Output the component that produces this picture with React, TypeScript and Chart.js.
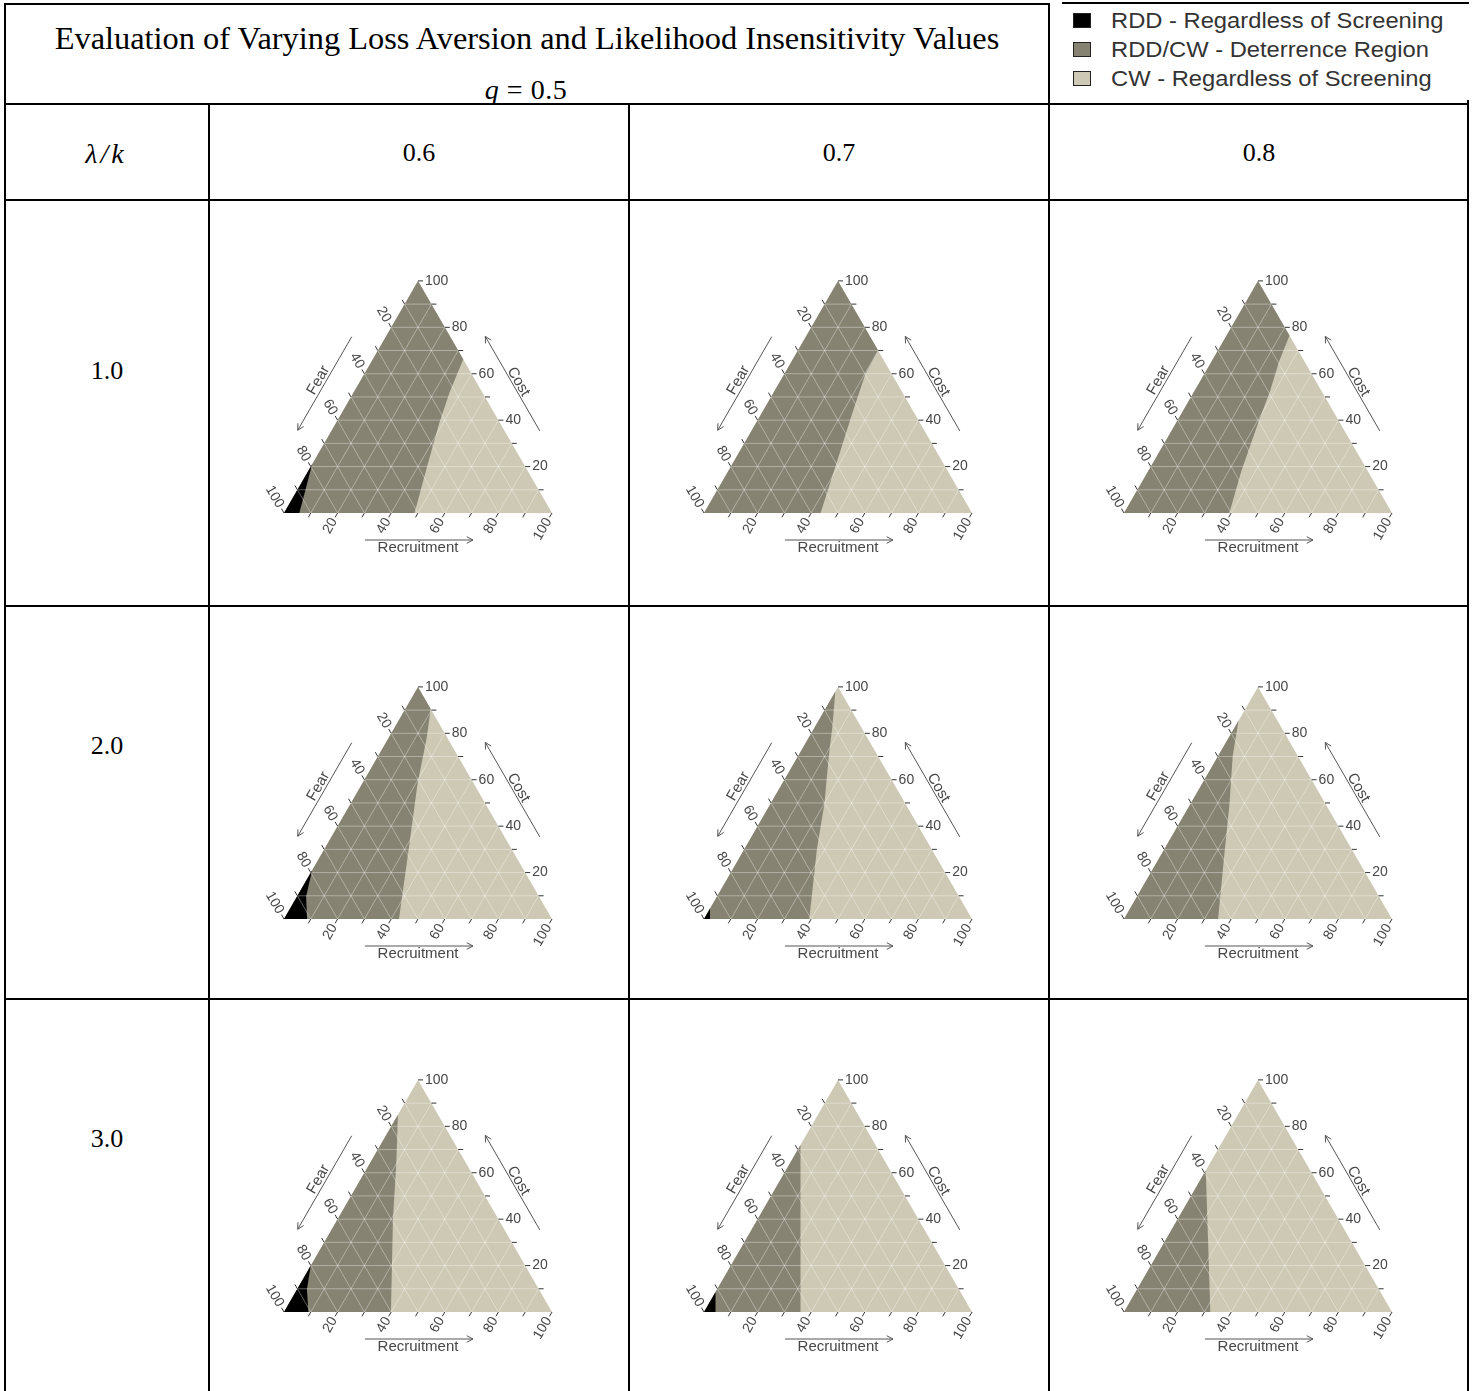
import React, { useEffect, useRef } from "react";
import { Chart, registerables } from "chart.js";

Chart.register(...registerables);

// Column headers: likelihood insensitivity k; row headers: loss aversion λ
const K_VALUES = ["0.6", "0.7", "0.8"];
const LAMBDA_VALUES = ["1.0", "2.0", "3.0"];

const AXIS_LABEL_TICKS = [20, 40, 60, 80, 100];
const AXIS_MARK_TICKS = [10, 20, 30, 40, 50, 60, 70, 80, 90, 100];
const GRID_STEPS = [10, 20, 30, 40, 50, 60, 70, 80, 90];

const REGION_LABELS = [
  "RDD - Regardless of Screening",
  "RDD/CW - Deterrence Region",
  "CW - Regardless of Screening",
];
const REGION_COLORS = ["#000000", "#868372", "#cdc9b4"];

// Region edges as [Recruitment, Cost] pairs (Fear = 100 - Recruitment - Cost),
// listed from the Recruitment axis upward.
// CW edge: deterrence region (left) vs. CW regardless of screening (right).
const cwEdgeL1K06 = [[48.7, 0], [43.2, 20.7], [38.5, 39], [35.8, 52], [33.8, 66.2]];
const cwEdgeL1K07 = [[43.5, 0], [39.1, 19.7], [33.6, 44], [30.3, 59.7], [30, 70]];
const cwEdgeL1K08 = [[39.3, 0], [34.7, 18.3], [30.5, 39.7], [28.2, 52.6], [25.2, 65.4], [23.5, 76.5]];
const cwEdgeL2K06 = [[42.9, 0], [31.6, 29.8], [20.6, 58.5], [14.3, 77.8], [9.5, 90.5]];
const cwEdgeL2K07 = [[39.3, 0], [27.2, 29.8], [20, 49.9], [11.6, 69.9], [6.5, 82.8], [0, 98]];
const cwEdgeL2K08 = [[35.1, 0], [22.1, 31.3], [15, 48.6], [5.5, 70.1], [0, 85.5]];
const cwEdgeL3K06 = [[39.9, 0], [20.8, 39.7], [9.9, 64], [0, 85]];
const cwEdgeL3K07 = [[36, 0], [18, 36], [0, 72]];
const cwEdgeL3K08 = [[32.2, 0], [16.6, 29.6], [0, 61]];

// RDD edge: RDD regardless of screening (corner at Fear = 100) vs. deterrence region.
const rddEdgeL1K06 = [[5.7, 0], [3.2, 9.3], [0, 21]];
const rddEdgeL2K06 = [[8.6, 0], [3.4, 9.7], [0, 21]];
const rddEdgeL2K07 = [[2.5, 0], [0, 4.5]];
const rddEdgeL3K06 = [[9.1, 0], [3.7, 9.7], [0, 20]];
const rddEdgeL3K07 = [[4.3, 0], [0, 8.6]];

const CW_EDGES = [
  [cwEdgeL1K06, cwEdgeL1K07, cwEdgeL1K08],
  [cwEdgeL2K06, cwEdgeL2K07, cwEdgeL2K08],
  [cwEdgeL3K06, cwEdgeL3K07, cwEdgeL3K08],
];
const RDD_EDGES = [
  [rddEdgeL1K06, [], []],
  [rddEdgeL2K06, rddEdgeL2K07, []],
  [rddEdgeL3K06, rddEdgeL3K07, []],
];

// ---- geometry / style -----------------------------------------------------
const SQ = Math.sqrt(3) / 2;
const PX_PER_UNIT = 2.68;
const CANVAS_W = 416;
const CANVAS_H = 330;
const BASE_Y = 274; // canvas y of the Recruitment axis
const TICK_PX = 5;
const LABEL_COLOR = "#474747";
const GRID_COLOR = "rgba(255,255,255,0.36)";
const TICK_COLOR = "#333333";

const cart = (r: number, c: number) => ({ x: r + c / 2, y: c * SQ });
const GAP = { x: 0, y: null as any };

function polygon(points: number[][]) {
  return points.map(([r, c]) => cart(r, c));
}

const ternaryDecor = {
  id: "ternaryDecor",
  afterDatasetsDraw(chart: any) {
    const ctx: CanvasRenderingContext2D = chart.ctx;
    const xs = chart.scales.x;
    const ys = chart.scales.y;
    const P = (r: number, c: number) => {
      const p = cart(r, c);
      return [xs.getPixelForValue(p.x), ys.getPixelForValue(p.y)];
    };
    ctx.save();
    ctx.fillStyle = LABEL_COLOR;
    ctx.strokeStyle = "#555555";
    ctx.lineWidth = 1;
    ctx.textBaseline = "middle";
    ctx.font = "14px 'Liberation Sans', Arial, sans-serif";
    const d = TICK_PX + 2;

    // Cost (right edge)
    for (const v of AXIS_LABEL_TICKS) {
      const [x, y] = P(100 - v, v);
      ctx.textAlign = "left";
      ctx.fillText(String(v), x + d, y);
    }
    // Fear (left edge)
    for (const v of AXIS_LABEL_TICKS) {
      const [x, y] = P(0, 100 - v);
      ctx.save();
      ctx.translate(x - 0.5 * d, y - SQ * d);
      ctx.rotate(Math.PI / 3);
      ctx.textAlign = "right";
      ctx.fillText(String(v), 0, 0);
      ctx.restore();
    }
    // Recruitment (base)
    for (const v of AXIS_LABEL_TICKS) {
      const [x, y] = P(v, 0);
      ctx.save();
      ctx.translate(x - 0.5 * d, y + SQ * d);
      ctx.rotate(-Math.PI / 3);
      ctx.textAlign = "right";
      ctx.fillText(String(v), 0, 0);
      ctx.restore();
    }

    // Axis titles with direction arrows
    ctx.font = "15px 'Liberation Sans', Arial, sans-serif";
    const titled = (
      text: string,
      at: (t: number) => number[],
      normal: number[],
      tTail: number,
      tHead: number,
      dArrow: number,
      tText: number,
      dText: number,
      angle: number
    ) => {
      const [tx, ty] = at(tTail);
      const [hx, hy] = at(tHead);
      const ax = tx + normal[0] * dArrow, ay = ty + normal[1] * dArrow;
      const bx = hx + normal[0] * dArrow, by = hy + normal[1] * dArrow;
      ctx.beginPath();
      ctx.moveTo(ax, ay);
      ctx.lineTo(bx, by);
      const len = Math.hypot(bx - ax, by - ay);
      const ux = (bx - ax) / len, uy = (by - ay) / len;
      const head = 7, sp = (28 * Math.PI) / 180;
      for (const s of [sp, -sp]) {
        const cx = ux * Math.cos(s) - uy * Math.sin(s);
        const cy = ux * Math.sin(s) + uy * Math.cos(s);
        ctx.moveTo(bx, by);
        ctx.lineTo(bx - cx * head, by - cy * head);
      }
      ctx.stroke();
      const [px, py] = at(tText);
      ctx.save();
      ctx.translate(px + normal[0] * dText, py + normal[1] * dText);
      ctx.rotate(angle);
      ctx.textAlign = "center";
      ctx.fillText(text, 0, 0);
      ctx.restore();
    };
    titled("Recruitment", (t) => P(t, 0), [0, 1], 30.2, 70.5, 27, 50, 34.5, 0);
    titled("Fear", (t) => P(0, t), [-SQ, -0.5], 69.6, 29.3, 29.5, 49.3, 36.5, -Math.PI / 3);
    titled("Cost", (t) => P(100 - t, t), [SQ, -0.5], 28.8, 69.5, 30.5, 48.7, 36.5, Math.PI / 3);
    ctx.restore();
  },
};

function buildDatasets(cwEdge: number[][], rddEdge: number[][]) {
  const tri = polygon([[0, 0], [100, 0], [0, 100], [0, 0]]);
  const last = cwEdge[cwEdge.length - 1];
  const darkPts = [[0, 0], ...cwEdge];
  if (last[0] + last[1] >= 99.5) darkPts.push([0, 100]);
  darkPts.push([0, 0]);
  const blackPts = rddEdge.length ? [[0, 0], ...rddEdge, [0, 0]] : [];

  const grid: any[] = [];
  for (const k of GRID_STEPS) {
    grid.push(cart(0, k), cart(100 - k, k), GAP);
    grid.push(cart(k, 0), cart(k, 100 - k), GAP);
    grid.push(cart(100 - k, 0), cart(0, 100 - k), GAP);
  }
  const tl = TICK_PX / PX_PER_UNIT;
  const ticks: any[] = [];
  for (const k of AXIS_MARK_TICKS) {
    const b = cart(k, 0);
    ticks.push(b, { x: b.x - 0.5 * tl, y: b.y - SQ * tl }, GAP);
    const r = cart(100 - k, k);
    ticks.push(r, { x: r.x + tl, y: r.y }, GAP);
    const l = cart(0, 100 - k);
    ticks.push(l, { x: l.x - 0.5 * tl, y: l.y + SQ * tl }, GAP);
  }

  const area = (label: string, data: any[], color: string, order: number) => ({
    label,
    data,
    order,
    borderWidth: 0,
    borderColor: "rgba(0,0,0,0)",
    backgroundColor: color,
    fill: "shape",
    pointRadius: 0,
    tension: 0,
  });
  const sets: any[] = [
    area(REGION_LABELS[2], tri, REGION_COLORS[2], 5),
    area(REGION_LABELS[1], polygon(darkPts), REGION_COLORS[1], 4),
  ];
  if (blackPts.length) sets.push(area(REGION_LABELS[0], polygon(blackPts), REGION_COLORS[0], 3));
  sets.push({
    label: "grid",
    data: grid,
    order: 2,
    borderColor: GRID_COLOR,
    borderWidth: 1,
    pointRadius: 0,
    fill: false,
    spanGaps: false,
  });
  sets.push({
    label: "ticks",
    data: ticks,
    order: 1,
    borderColor: TICK_COLOR,
    borderWidth: 1,
    pointRadius: 0,
    fill: false,
    spanGaps: false,
  });
  return sets;
}

function TernaryPanel({ cwEdge, rddEdge, left, top }: { cwEdge: number[][]; rddEdge: number[][]; left: number; top: number }) {
  const ref = useRef<HTMLCanvasElement>(null);
  useEffect(() => {
    const halfW = CANVAS_W / 2 / PX_PER_UNIT;
    const yMin = -(CANVAS_H - BASE_Y) / PX_PER_UNIT;
    const chart = new Chart(ref.current as HTMLCanvasElement, {
      type: "line",
      data: { datasets: buildDatasets(cwEdge, rddEdge) },
      options: {
        animation: false,
        responsive: false,
        maintainAspectRatio: false,
        devicePixelRatio: 1,
        layout: { padding: 0 },
        events: [],
        scales: {
          x: { type: "linear", display: false, min: 50 - halfW, max: 50 + halfW },
          y: { type: "linear", display: false, min: yMin, max: yMin + CANVAS_H / PX_PER_UNIT },
        },
        plugins: { legend: { display: false }, tooltip: { enabled: false } },
      } as any,
      plugins: [ternaryDecor as any],
    });
    return () => chart.destroy();
  }, []);
  return (
    <canvas
      ref={ref}
      width={CANVAS_W}
      height={CANVAS_H}
      style={{ position: "absolute", left, top, width: CANVAS_W, height: CANVAS_H }}
    />
  );
}

const serif = "'Liberation Serif', 'Times New Roman', serif";

function CenterText({ x, y, size, children, italic, spacing }: any) {
  return (
    <div
      style={{
        position: "absolute",
        left: x - 700,
        width: 1400,
        top: y - size,
        height: size * 2,
        lineHeight: `${size * 2}px`,
        textAlign: "center",
        fontFamily: serif,
        fontSize: size,
        fontStyle: italic ? "italic" : "normal",
        letterSpacing: spacing || 0,
        color: "#000",
        whiteSpace: "nowrap",
      }}
    >
      {children}
    </div>
  );
}

const Line = ({ l, t, w, h }: { l: number; t: number; w: number; h: number }) => (
  <div style={{ position: "absolute", left: l, top: t, width: w, height: h, background: "#000" }} />
);

const COL_LINES = [208, 628, 1048];
const ROW_LINES = [199, 605, 998];
const ROW_LABEL_Y = [371, 746, 1139];

export default function App() {
  return (
    <div style={{ position: "absolute", left: 0, top: 0, width: 1476, height: 1391, background: "#fff", overflow: "hidden" }}>
      {/* table rules */}
      <Line l={4} t={3} w={1046} h={2} />
      <Line l={1062} t={2} w={407} h={2} />
      <Line l={4} t={103} w={1465} h={2} />
      {ROW_LINES.map((y) => (
        <Line key={y} l={4} t={y} w={1465} h={2} />
      ))}
      <Line l={4} t={3} w={2} h={1388} />
      <Line l={208} t={103} w={2} h={1288} />
      <Line l={628} t={103} w={2} h={1288} />
      <Line l={1048} t={3} w={2} h={1388} />
      <Line l={1467} t={100} w={2} h={1291} />

      {/* title */}
      <CenterText x={527} y={38} size={32.4}>
        Evaluation of Varying Loss Aversion and Likelihood Insensitivity Values
      </CenterText>
      <CenterText x={526} y={90} size={28} spacing={0.5}>
        <i>q</i> = 0.5
      </CenterText>

      {/* legend */}
      {REGION_LABELS.map((label, i) => (
        <React.Fragment key={label}>
          <div
            style={{
              position: "absolute",
              left: 1073,
              top: 13 + i * 29,
              width: 16,
              height: 13,
              background: REGION_COLORS[i],
              border: "1px solid #222",
            }}
          />
          <div
            style={{
              position: "absolute",
              left: 1111,
              top: 5 + i * 29,
              height: 32,
              lineHeight: "32px",
              fontFamily: "'Liberation Sans', Arial, sans-serif",
              fontSize: 22.5,
              color: "#333",
              whiteSpace: "nowrap",
              transform: "scaleX(1.055)",
              transformOrigin: "left center",
            }}
          >
            {label}
          </div>
        </React.Fragment>
      ))}

      {/* header row */}
      <CenterText x={106} y={154} size={28} italic spacing={3}>
        λ/k
      </CenterText>
      {K_VALUES.map((k, j) => (
        <CenterText key={k} x={COL_LINES[j] + 211} y={153} size={26}>
          {k}
        </CenterText>
      ))}

      {/* body rows */}
      {LAMBDA_VALUES.map((lam, i) => (
        <React.Fragment key={lam}>
          <CenterText x={107} y={ROW_LABEL_Y[i]} size={26}>
            {lam}
          </CenterText>
          {K_VALUES.map((k, j) => (
            <TernaryPanel
              key={k}
              cwEdge={CW_EDGES[i][j]}
              rddEdge={RDD_EDGES[i][j]}
              left={COL_LINES[j] + 2}
              top={ROW_LINES[i] + 40}
            />
          ))}
        </React.Fragment>
      ))}
    </div>
  );
}
